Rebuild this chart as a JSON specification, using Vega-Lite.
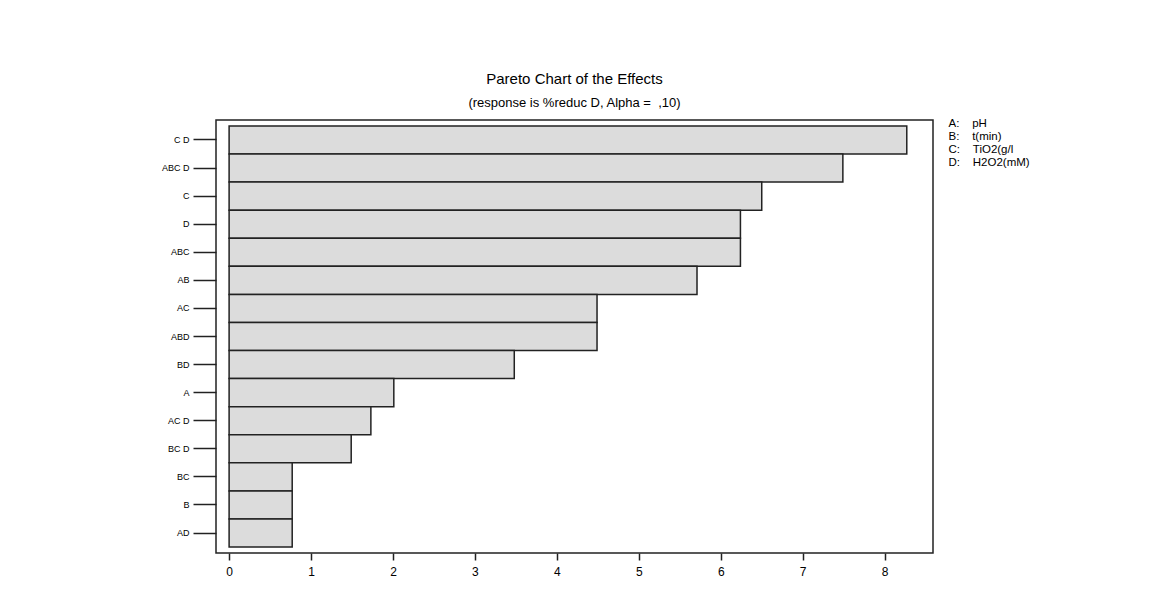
{
  "$schema": "https://vega.github.io/schema/vega-lite/v6.json",
  "width": 717,
  "height": 433,
  "autosize": {"type": "none"},
  "padding": {"left": 216, "top": 120, "right": 223, "bottom": 57},
  "background": "white",
  "title": {
    "text": "Pareto Chart of the Effects",
    "subtitle": "(response is %reduc D, Alpha =\u00a0\u00a0,10)",
    "anchor": "middle",
    "font": "Liberation Sans",
    "fontSize": 15,
    "fontWeight": "normal",
    "color": "black",
    "subtitleFont": "Liberation Sans",
    "subtitleFontSize": 13,
    "subtitleColor": "black",
    "subtitlePadding": 10,
    "offset": 8
  },
  "datasets": {
    "effects": [
      {"term": "C D", "effect": 8.27},
      {"term": "ABC D", "effect": 7.49},
      {"term": "C", "effect": 6.5},
      {"term": "D", "effect": 6.24},
      {"term": "ABC", "effect": 6.24},
      {"term": "AB", "effect": 5.71},
      {"term": "AC", "effect": 4.49},
      {"term": "ABD", "effect": 4.49},
      {"term": "BD", "effect": 3.48},
      {"term": "A", "effect": 2.01},
      {"term": "AC D", "effect": 1.73},
      {"term": "BC D", "effect": 1.49},
      {"term": "BC", "effect": 0.77},
      {"term": "B", "effect": 0.77},
      {"term": "AD", "effect": 0.77}
    ],
    "factors": [
      {"label": "A:\u00a0\u00a0\u00a0\u00a0pH"},
      {"label": "B:\u00a0\u00a0\u00a0\u00a0t(min)"},
      {"label": "C:\u00a0\u00a0\u00a0\u00a0TiO2(g/l"},
      {"label": "D:\u00a0\u00a0\u00a0\u00a0H2O2(mM)"}
    ]
  },
  "layer": [
    {
      "data": {"name": "effects"},
      "mark": {"type": "bar", "fill": "#dcdcdc", "stroke": "#222222", "strokeWidth": 1.5},
      "encoding": {
        "y": {
          "field": "term",
          "type": "nominal",
          "sort": null,
          "scale": {"paddingInner": 0, "paddingOuter": 0.21},
          "axis": {
            "title": null,
            "domain": false,
            "tickSize": 23,
            "tickColor": "#222222",
            "tickWidth": 1.5,
            "labelFont": "Liberation Sans",
            "labelFontSize": 9,
            "labelColor": "black",
            "labelPadding": 4
          }
        },
        "x": {
          "field": "effect",
          "type": "quantitative",
          "scale": {"domain": [-0.16, 8.59], "nice": false, "zero": false},
          "axis": {
            "title": null,
            "values": [0, 1, 2, 3, 4, 5, 6, 7, 8],
            "domain": false,
            "grid": false,
            "tickSize": 7,
            "tickColor": "#222222",
            "tickWidth": 1.5,
            "labelFont": "Liberation Sans",
            "labelFontSize": 12,
            "labelColor": "black",
            "labelPadding": 6
          }
        }
      }
    },
    {
      "data": {"name": "factors"},
      "mark": {"type": "point", "opacity": 0},
      "encoding": {
        "color": {
          "field": "label",
          "type": "nominal",
          "sort": null,
          "scale": {"range": ["black"]},
          "legend": {
            "title": null,
            "orient": "none",
            "legendX": 721,
            "legendY": -2,
            "symbolOpacity": 0,
            "symbolSize": 0,
            "symbolStrokeWidth": 0,
            "labelFont": "Liberation Sans",
            "labelFontSize": 11.5,
            "labelColor": "black",
            "labelOffset": 0,
            "rowPadding": 0
          }
        }
      }
    }
  ],
  "config": {
    "view": {"stroke": "#222222", "strokeWidth": 1.5}
  }
}
